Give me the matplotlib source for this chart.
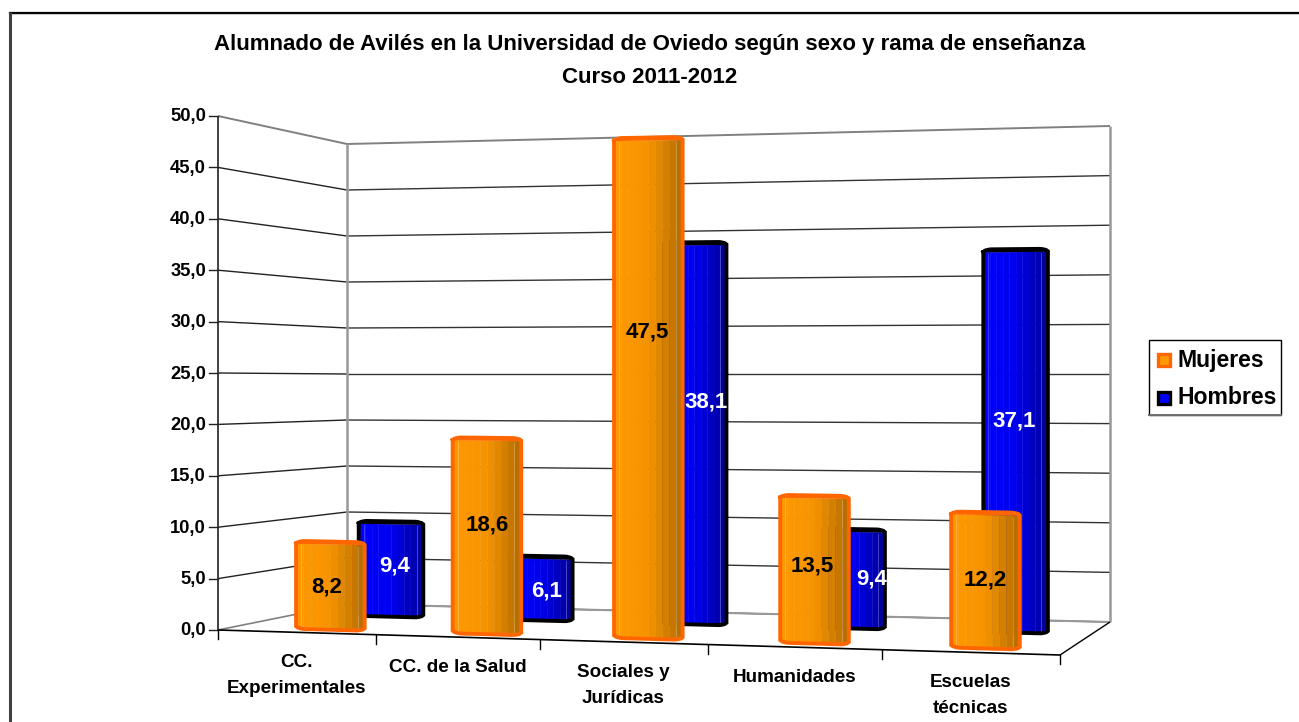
import numpy as np
import matplotlib
matplotlib.use('Agg')
import matplotlib.pyplot as plt
from matplotlib.colors import LinearSegmentedColormap

categories = ['CC.\nExperimentales', 'CC. de la Salud', 'Sociales y\nJurídicas', 'Humanidades', 'Escuelas\ntécnicas']
mujeres = [8.2, 18.6, 47.5, 13.5, 12.2]
hombres = [9.4, 6.1, 38.1, 9.4, 37.1]
y_ticks = [0, 5, 10, 15, 20, 25, 30, 35, 40, 45, 50]

title = 'Alumnado de Avilés en la Universidad de Oviedo según sexo y rama de enseñanza\nCurso 2011-2012'

plt.rcParams['font.family'] = ['Liberation Sans', 'DejaVu Sans']
plt.rcParams['font.weight'] = 'bold'

W, H = 1299, 722
fig = plt.figure(figsize=(W / 100, H / 100), dpi=100)
ax = fig.add_axes([0, 0, 1, 1])
ax.set_xlim(0, W)
ax.set_ylim(H, 0)
ax.axis('off')

# floor corners in pixels: front-left, front-right, back-right, back-left
FL, FR, BR, BL = (218, 630), (1060, 655), (1110, 622), (347, 604)
# pixels per unit of value at those corners
S_FL, S_FR, S_BR, S_BL = 10.28, 11.08, 9.92, 9.2
WARP = 0.074   # perspective squeeze along the category axis
VMAX = 50.0


def proj(u, d, v):
    # u along categories, d into the depth (0-1), v the value
    uw = u + WARP * u * (u - 1)
    xf, yf = FL[0] + (FR[0] - FL[0]) * uw, FL[1] + (FR[1] - FL[1]) * uw
    xb, yb = BL[0] + (BR[0] - BL[0]) * uw, BL[1] + (BR[1] - BL[1]) * uw
    x = xf + (xb - xf) * d
    y = yf + (yb - yf) * d
    sf = S_FL + (S_FR - S_FL) * uw
    sb = S_BL + (S_BR - S_BL) * uw
    return x, y - (sf + (sb - sf) * d) * v


def seg(u0, d0, v0, u1, d1, v1, **kw):
    x0, y0 = proj(u0, d0, v0)
    x1, y1 = proj(u1, d1, v1)
    ax.plot([x0, x1], [y0, y1], solid_capstyle='butt', **kw)


# chart frame
ax.plot([10, W], [12.5, 12.5], color='black', lw=1.6)
ax.plot([10, W], [14.3, 14.3], color='#c8c8c8', lw=0.8)
ax.plot([10, 10], [11.8, H], color='#404040', lw=2.2, solid_capstyle='butt')

# walls and gridlines
for t in y_ticks:
    c = '#808080' if t == 50 else '#222222'
    lw = 1.4 if t == 50 else 1.0
    if t > 0:
        seg(0, 0, t, 0, 1, t, color=c, lw=lw)
    seg(0, 1, t, 1, 1, t, color='#808080' if t == 50 else '#333333', lw=lw)
seg(0, 1, 0, 0, 0, 0, color='#808080', lw=1.2)
seg(0, 1, 0, 1, 1, 0, color='#999999', lw=1.5)
seg(0, 1, 0, 0, 1, VMAX, color='#999999', lw=1.8)
seg(1, 1, 0, 1, 1, VMAX, color='#999999', lw=1.8)

# axis lines, ticks and labels
seg(0, 0, 0, 0, 0, VMAX, color='#404040', lw=1.4)
seg(0, 0, 0, 1, 0, 0, color='black', lw=1.2)
seg(1, 0, 0, 1, 1, 0, color='black', lw=1.0)
for t in y_ticks:
    x, y = proj(0, 0, t)
    ax.plot([x - 9, x], [y, y], color='#222222', lw=1.0)
    ax.text(x - 12, y + 1, f'{t:.1f}'.replace('.', ','), ha='right', va='center', fontsize=13.2, color='black')

n = len(categories)
for i in range(n + 1):
    x, y = proj(i / n, 0, 0)
    ax.plot([x, x], [y, y + 9], color='black', lw=1.0)
for i, cat in enumerate(categories):
    x, y = proj((i + 0.5) / n, 0, 0)
    ax.text(x, y + 22, cat, ha='center', va='top', fontsize=13.6, linespacing=1.7)

orange = LinearSegmentedColormap.from_list('o', ['#ff9900', '#f59300', '#b36b00'])
blue = LinearSegmentedColormap.from_list('b', ['#0000ff', '#0000ee', '#000099'])


def cylinder(u, d, du, v, cmap, edge, bulge):
    # keep the width about the same in pixels along the axis
    du = du / (1 + WARP * (2 * u - 1))
    ul, ur = u - du / 2, u + du / 2
    xl, yb_l = proj(ul, d, 0)
    xr, yb_r = proj(ur, d, 0)
    _, yt_l = proj(ul, d, v)
    _, yt_r = proj(ur, d, v)
    ts = np.linspace(0, 1, 41)
    xs = xl + (xr - xl) * ts
    e = bulge * np.clip(np.sqrt(np.clip(1 - (2 * ts - 1) ** 2, 0, 1)) * 1.6, 0, 1)
    ytop0 = yt_l + (yt_r - yt_l) * ts
    ytop = ytop0 - e
    ybot = yb_l + (yb_r - yb_l) * ts + e
    bands = 10
    for b in range(bands):
        a0, a1 = b * 4, (b + 1) * 4
        ax.fill_between(xs[a0:a1 + 1], ytop0[a0:a1 + 1], ybot[a0:a1 + 1], color=cmap((b + 0.5) / bands), lw=0.3, zorder=3)
    ax.fill_between(xs, ytop, ytop0, color=edge, lw=0, zorder=3)
    for f in (0.09, 0.92):
        k = int(f * 40)
        ax.plot([xs[k], xs[k]], [ytop0[k] + 2, ybot[k] - 2], color='white', alpha=0.22, lw=0.8, zorder=3)
    px = np.r_[xs, xs[::-1], xs[0]]
    py = np.r_[ytop, ybot[::-1], ytop[0]]
    ax.plot(px, py, color=edge, lw=2.8, zorder=3, solid_joinstyle='miter')


# series depth and width on the floor
D_M, D_H = 0.20, 0.69
DU_M, DU_H = 0.083, 0.082
OFF_M, OFF_H = 0.008, 0.010
SPREAD = 0.99
label_dx_m = [-4, 0, -1, -2, 0]
label_dy_m = [1, -11, -56, -4, 0]
label_dx_h = [4, 6, 12, 19, -1]
label_dy_h = [-3, 3, -31, 0, -20]


def bar_u(i):
    return 0.5 + ((i + 0.5) / n - 0.5) * SPREAD


for i in range(n):
    cylinder(bar_u(i) + OFF_H, D_H, DU_H, hombres[i], blue, 'black', 2.5)
for i in range(n):
    cylinder(bar_u(i) + OFF_M, D_M, DU_M, mujeres[i], orange, '#ff6600', 2.5)

for i in range(n):
    u = bar_u(i)
    x, y = proj(u + OFF_M, D_M, mujeres[i] / 2)
    ax.text(x + label_dx_m[i], y + label_dy_m[i], f'{mujeres[i]:.1f}'.replace('.', ','), ha='center', va='center', fontsize=16, color='black', zorder=5)
    x, y = proj(u + OFF_H, D_H, hombres[i] / 2)
    ax.text(x + label_dx_h[i], y + label_dy_h[i], f'{hombres[i]:.1f}'.replace('.', ','), ha='center', va='center', fontsize=16, color='white', zorder=5)

ax.text(650, 61, title, ha='center', va='center', fontsize=16, linespacing=1.8)

# legend
ax.fill([1149, 1281, 1281, 1149], [340, 340, 415, 415], facecolor='white', edgecolor='black', lw=1.0, zorder=6)
ax.plot([1149, 1281], [415, 415], color='#707070', lw=1.4, zorder=6)
for yc, face, edge, lab in [(360, '#ff9900', '#ff6600', 'Mujeres'), (398, '#0000ff', 'black', 'Hombres')]:
    ax.fill([1158.5, 1170.5, 1170.5, 1158.5], [yc - 6, yc - 6, yc + 6, yc + 6], facecolor=face, edgecolor=edge, lw=2.4, zorder=7)
    ax.text(1178, yc, lab, ha='left', va='center', fontsize=16.6, zorder=7)

fig.savefig('out.png', dpi=100)
